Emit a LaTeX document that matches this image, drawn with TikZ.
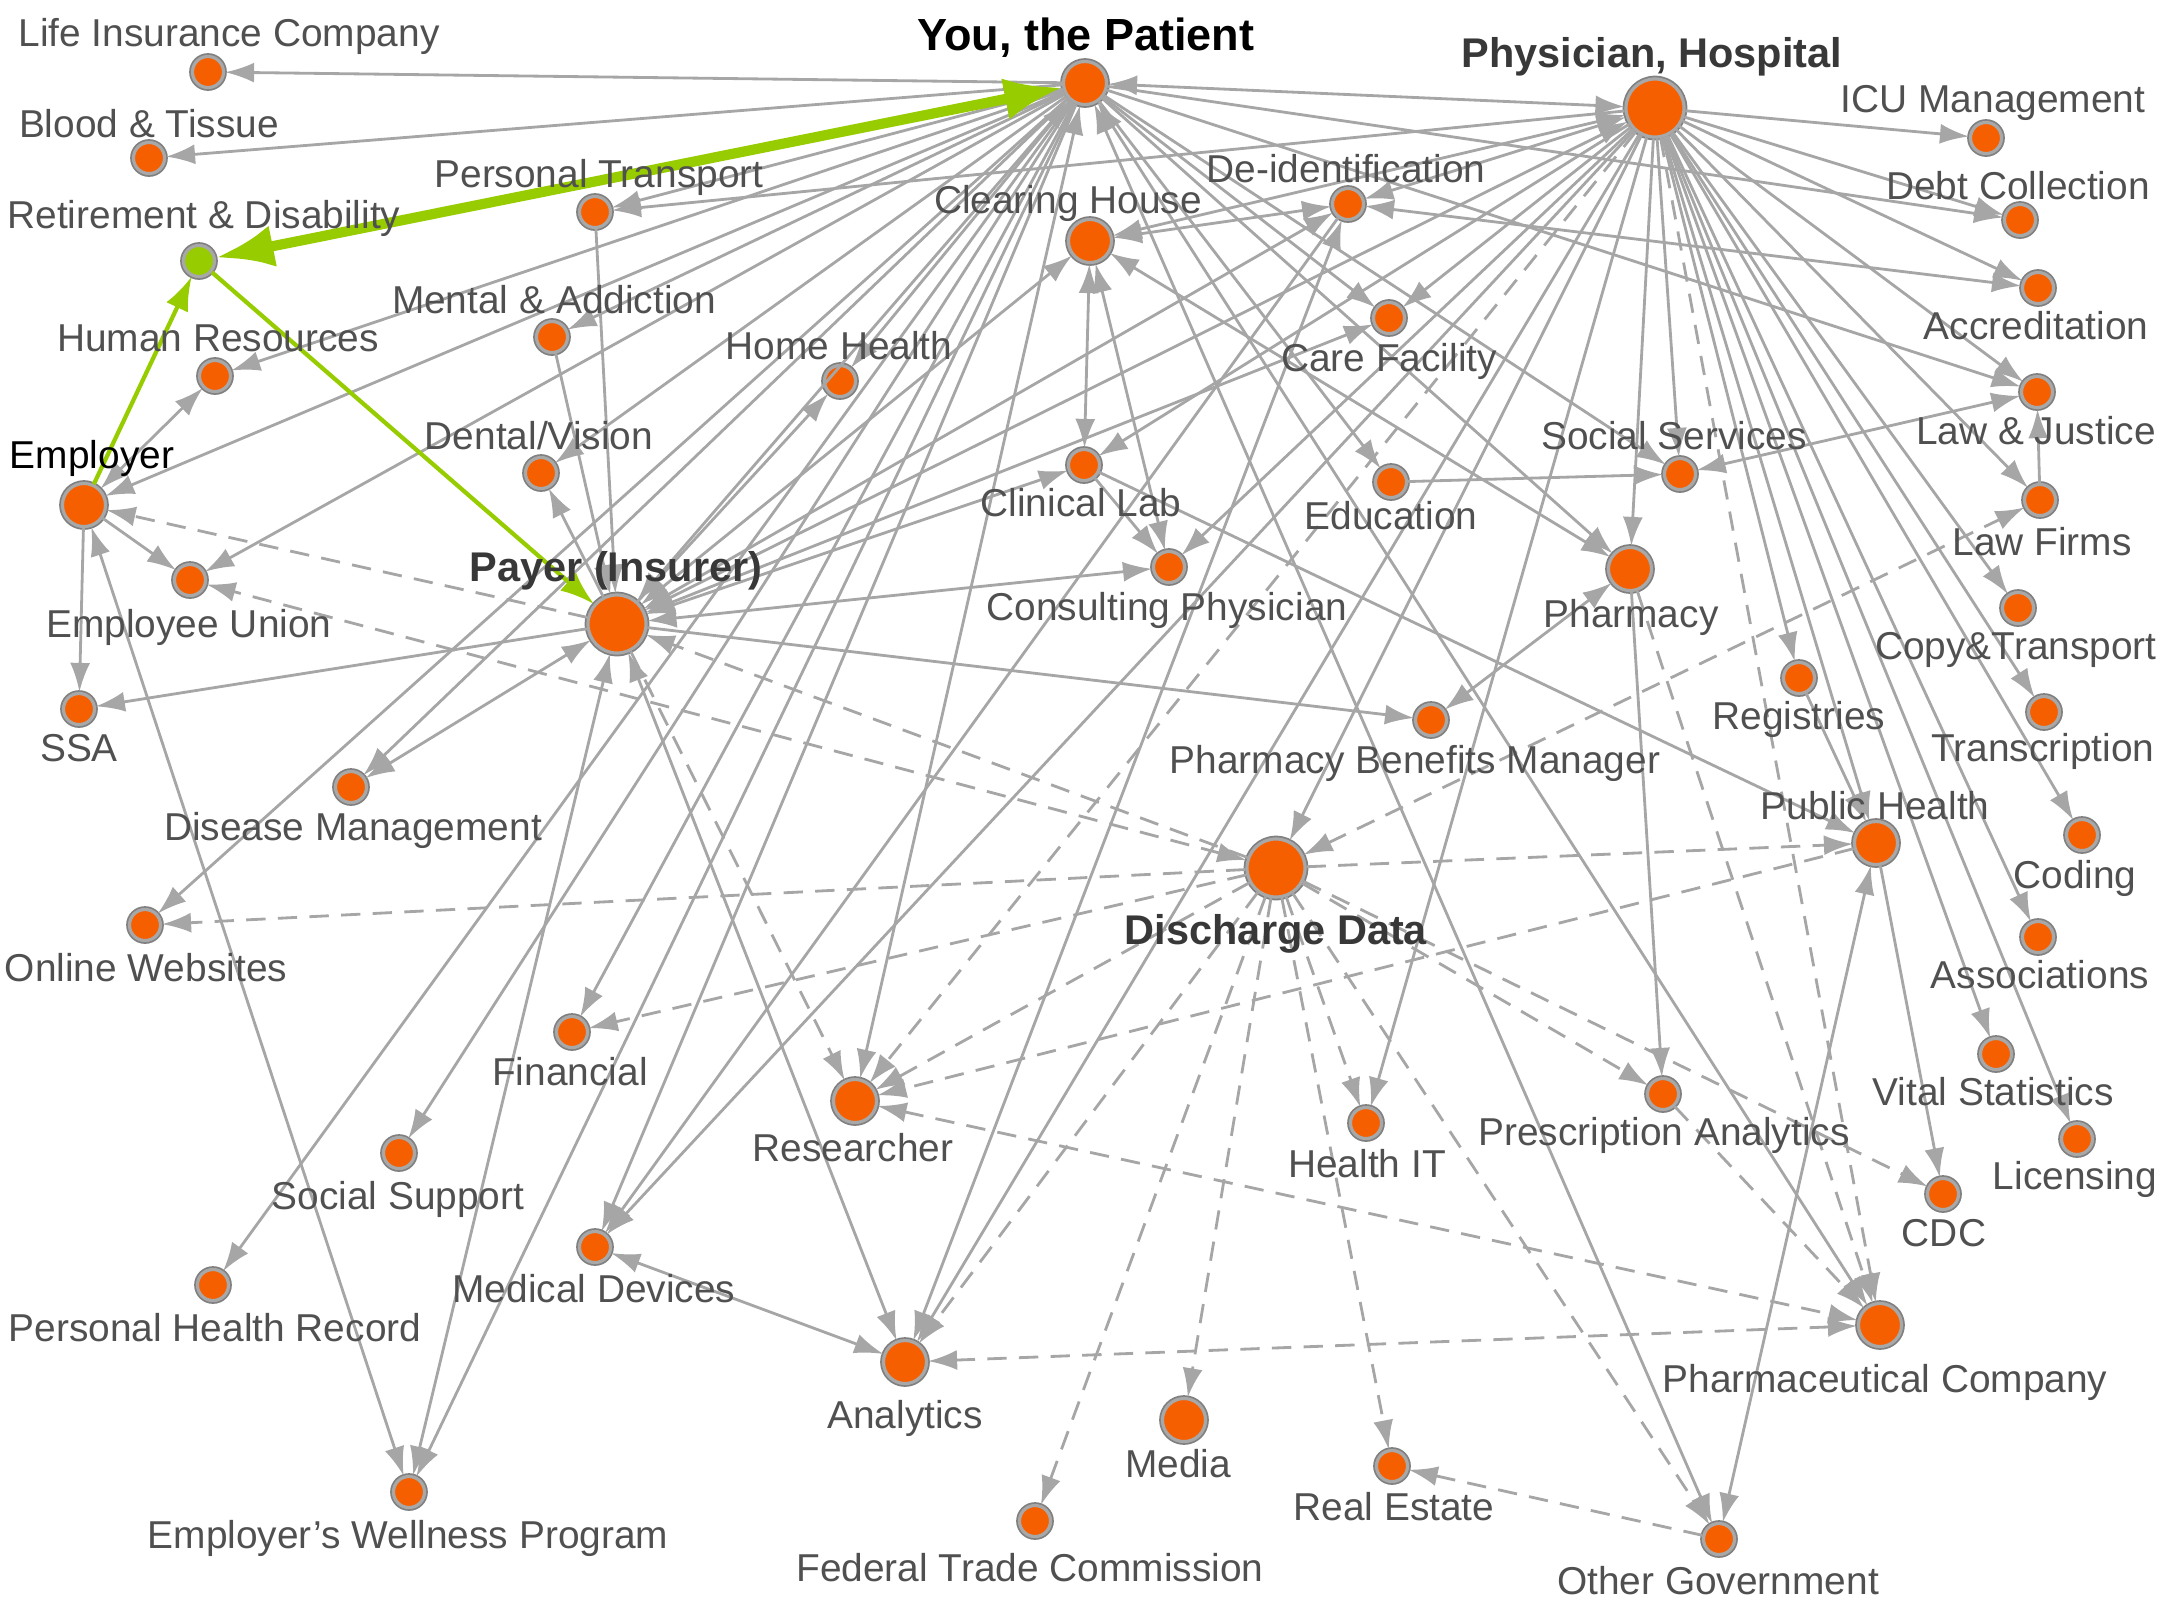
\documentclass[tikz,border=0pt]{standalone}
\usepackage{fontspec}
\setmainfont{Liberation Sans}
\usetikzlibrary{arrows.meta}
\definecolor{dotfill}{HTML}{F65F00}
\definecolor{dotgreen}{HTML}{96CC00}
\definecolor{rimlight}{HTML}{A8A8A8}
\definecolor{rimdark}{HTML}{808080}
\definecolor{edgegray}{HTML}{A6A6A6}
\definecolor{labelgray}{HTML}{505050}

\begin{document}
\begin{tikzpicture}[x=0.01cm,y=-0.01cm,
  dot/.style={shape=circle,inner sep=0,minimum size=3.1mm,fill=dotfill,draw=rimlight,line width=0.9pt,preaction={draw=rimdark,line width=1.9pt}},
  hub/.style={dot,minimum size=4.3mm},
  bighub/.style={dot,minimum size=5.8mm},
  txt/.style={inner sep=0,text=labelgray,font=\fontsize{11.05}{13}\selectfont},
  boldtxt/.style={inner sep=0,text=labelgray!70!black,font=\fontsize{11.8}{14}\selectfont\bfseries},
  conn/.style={draw=edgegray,line width=0.8pt,-{Latex[length=2.9mm,width=2mm]}},
  twoway/.style={conn,{Latex[length=2.9mm,width=2mm]}-{Latex[length=2.9mm,width=2mm]}},
  dashconn/.style={conn,dash pattern=on 5.5pt off 3.5pt},
  dashtwoway/.style={twoway,dash pattern=on 5.5pt off 3.5pt},
  greenconn/.style={draw=dotgreen,line width=1.2pt,-{Latex[length=3.4mm,width=2.4mm]}}]
\useasboundingbox (0,0) rectangle (2160,1620);

% big ones
\node[bighub] (physician) at (1655,108) {};
\node[bighub] (payer) at (617,624) {};
\node[bighub] (discharge) at (1276,868) {};
\node[hub] (patient) at (1085,83) {};
\node[hub] (clearing) at (1090,241) {};
\node[hub] (employer) at (84,505) {};
\node[hub] (pharmacy) at (1630,569) {};
\node[hub] (pubh) at (1876,843) {};
\node[hub] (research) at (855,1101) {};
\node[hub] (analytics) at (905,1362) {};
\node[hub] (media) at (1184,1420) {};
\node[hub] (pharmco) at (1880,1325) {};

% small ones
\node[dot] (lifeins) at (208,72) {};
\node[dot] (blood) at (149,158) {};
\node[dot,fill=dotgreen] (retire) at (199,261) {};
\node[dot] (ptrans) at (595,212) {};
\node[dot] (mental) at (552,337) {};
\node[dot] (hr) at (215,376) {};
\node[dot] (dental) at (541,473) {};
\node[dot] (deid) at (1348,204) {};
\node[dot] (homeh) at (840,381) {};
\node[dot] (care) at (1389,318) {};
\node[dot] (clinical) at (1084,465) {};
\node[dot] (edu) at (1391,482) {};
\node[dot] (icu) at (1986,138) {};
\node[dot] (debt) at (2020,220) {};
\node[dot] (accred) at (2038,288) {};
\node[dot] (lawj) at (2037,392) {};
\node[dot] (socserv) at (1680,474) {};
\node[dot] (lawfirm) at (2040,500) {};
\node[dot] (union) at (190,580) {};
\node[dot] (ssa) at (79,709) {};
\node[dot] (disease) at (351,787) {};
\node[dot] (online) at (145,925) {};
\node[dot] (financial) at (572,1032) {};
\node[dot] (consult) at (1169,567) {};
\node[dot] (pbm) at (1431,720) {};
\node[dot] (copytrans) at (2018,608) {};
\node[dot] (registry) at (1799,678) {};
\node[dot] (transcr) at (2044,712) {};
\node[dot] (coding) at (2082,835) {};
\node[dot] (assoc) at (2038,937) {};
\node[dot] (vital) at (1996,1054) {};
\node[dot] (socsup) at (399,1153) {};
\node[dot] (phr) at (213,1285) {};
\node[dot] (meddev) at (595,1247) {};
\node[dot] (wellness) at (409,1492) {};
\node[dot] (realest) at (1392,1466) {};
\node[dot] (ftc) at (1035,1521) {};
\node[dot] (healthit) at (1366,1123) {};
\node[dot] (prescan) at (1663,1094) {};
\node[dot] (licens) at (2077,1139) {};
\node[dot] (cdc) at (1943,1194) {};
\node[dot] (othergov) at (1719,1539) {};

% solid, one head
\foreach \to in {lifeins,blood,ptrans,mental,hr,employer,union,dental,homeh,disease,online,phr,socsup,financial,meddev,wellness,care,edu,socserv,pharmacy,lawj,debt}
  \draw[conn] (patient) -- (\to);
\foreach \to in {ptrans,debt,icu,accred,lawj,lawfirm,copytrans,transcr,coding,assoc,vital,licens,registry,pubh,care,clinical,consult,socserv,pharmacy,discharge,healthit,meddev,analytics}
  \draw[conn] (physician) -- (\to);
\foreach \to in {ssa,dental,homeh,pbm}
  \draw[conn] (payer) -- (\to);
\foreach \from/\to in {employer/union,employer/ssa,clinical/pubh,edu/socserv,registry/pubh,pubh/cdc,pharmacy/prescan,lawfirm/lawj,ptrans/payer,mental/payer,deid/meddev,clinical/consult}
  \draw[conn] (\from) -- (\to);

% solid, two heads
\foreach \from/\to in {patient/physician,patient/payer,patient/research,patient/othergov,patient/pharmco,physician/payer,physician/clearing,physician/deid,clearing/deid,clearing/payer,clearing/clinical,clearing/consult,clearing/pharmacy,deid/accred,deid/analytics,deid/payer,payer/care,payer/clinical,payer/consult,payer/disease,payer/wellness,payer/analytics,employer/hr,employer/wellness,lawj/socserv,pharmacy/pbm,meddev/analytics,pubh/othergov}
  \draw[twoway] (\from) -- (\to);

% dashed
\foreach \to in {payer,online,financial,research,analytics,pubh,prescan,cdc,healthit,realest,media,ftc,othergov}
  \draw[dashconn] (discharge) -- (\to);
\foreach \from/\to in {payer/employer,payer/research,physician/research,pubh/research,prescan/pharmco,physician/pharmco,pharmacy/pharmco,othergov/realest}
  \draw[dashconn] (\from) -- (\to);
\foreach \from/\to in {discharge/union,discharge/lawfirm,research/pharmco,analytics/pharmco}
  \draw[dashtwoway] (\from) -- (\to);

% the highlighted path
\draw[greenconn,line width=2.9pt,{Latex[length=5.8mm,width=4.2mm]}-{Latex[length=5.8mm,width=4.2mm]}] (patient) -- (retire);
\draw[greenconn] (employer) -- (retire);
\draw[greenconn] (retire) -- (payer);

% labels
\node[txt] (lifeinsText) at (229,36) {Life Insurance Company};
\node[txt] (bloodText) at (149,124) {Blood \& Tissue};
\node[txt] (retireText) at (204,218) {Retirement \& Disability};
\node[txt] (ptransText) at (599,177) {Personal Transport};
\node[txt] (mentalText) at (554,300) {Mental \& Addiction};
\node[txt] (hrText) at (218,338) {Human Resources};
\node[txt] (dentalText) at (539,436) {Dental/Vision};
\node[txt,text=black] (employerText) at (92,458) {Employer};
\node[boldtxt,text=black,font=\fontsize{12.8}{14}\selectfont\bfseries] (patientText) at (1086,38) {You, the Patient};
\node[txt] (clearingText) at (1068,203) {Clearing House};
\node[txt] (deidText) at (1346,169) {De-identification};
\node[txt] (homehText) at (839,346) {Home Health};
\node[txt] (careText) at (1389,361) {Care Facility};
\node[txt] (clinicalText) at (1081,503) {Clinical Lab};
\node[txt] (eduText) at (1391,516) {Education};
\node[boldtxt] (physicianText) at (1652,57) {Physician, Hospital};
\node[txt] (icuText) at (1993,103) {ICU Management};
\node[txt] (debtText) at (2018,186) {Debt Collection};
\node[txt] (accredText) at (2036,326) {Accreditation};
\node[txt] (lawjText) at (2036,431) {Law \& Justice};
\node[txt] (socservText) at (1674,436) {Social Services};
\node[txt] (lawfirmText) at (2042,542) {Law Firms};
\node[txt] (unionText) at (189,627) {Employee Union};
\node[txt] (ssaText) at (79,748) {SSA};
\node[txt] (diseaseText) at (353,830) {Disease Management};
\node[boldtxt] (payerText) at (616,571) {Payer (Insurer)};
\node[txt] (onlineText) at (146,968) {Online Websites};
\node[txt] (financialText) at (570,1072) {Financial};
\node[txt] (consultText) at (1167,610) {Consulting Physician};
\node[txt] (pbmText) at (1415,763) {Pharmacy Benefits Manager};
\node[boldtxt] (dischargeText) at (1276,934) {Discharge Data};
\node[txt] (researchText) at (853,1148) {Researcher};
\node[txt] (pharmacyText) at (1631,617) {Pharmacy};
\node[txt] (copytransText) at (2016,650) {Copy\&Transport};
\node[txt] (registryText) at (1799,719) {Registries};
\node[txt] (transcrText) at (2043,751) {Transcription};
\node[txt] (pubhText) at (1875,806) {Public Health};
\node[txt] (codingText) at (2075,878) {Coding};
\node[txt] (assocText) at (2040,975) {Associations};
\node[txt] (vitalText) at (1993,1092) {Vital Statistics};
\node[txt] (socsupText) at (398,1199) {Social Support};
\node[txt] (phrText) at (215,1328) {Personal Health Record};
\node[txt] (meddevText) at (594,1289) {Medical Devices};
\node[txt] (wellnessText) at (408,1538) {Employer’s Wellness Program};
\node[txt] (analyticsText) at (905,1418) {Analytics};
\node[txt] (mediaText) at (1178,1464) {Media};
\node[txt] (realestText) at (1394,1507) {Real Estate};
\node[txt] (ftcText) at (1030,1568) {Federal Trade Commission};
\node[txt] (healthitText) at (1367,1164) {Health IT};
\node[txt] (prescanText) at (1664,1135) {Prescription Analytics};
\node[txt] (licensText) at (2075,1179) {Licensing};
\node[txt] (cdcText) at (1944,1233) {CDC};
\node[txt] (pharmcoText) at (1885,1382) {Pharmaceutical Company};
\node[txt] (othergovText) at (1718,1581) {Other Government};
\end{tikzpicture}
\end{document}
